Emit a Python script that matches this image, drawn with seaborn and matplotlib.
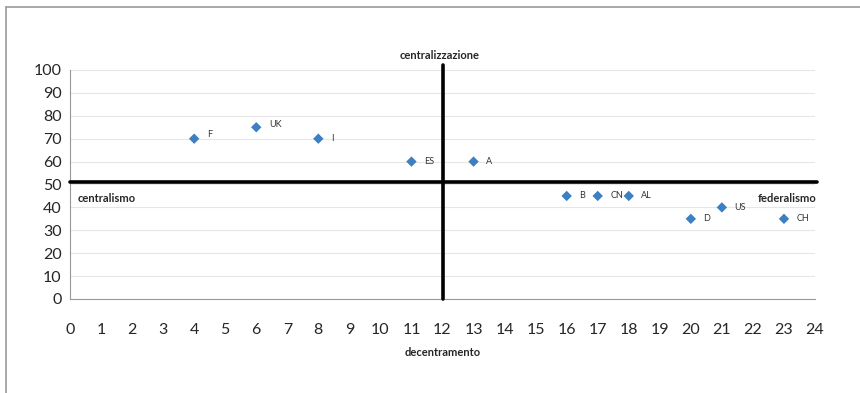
import matplotlib
matplotlib.use('Agg')
import matplotlib.pyplot as plt
from matplotlib.lines import Line2D
import pandas as pd
import seaborn as sns

# country positions: x = decentramento, y = centralizzazione
countries = ['F', 'UK', 'I', 'ES', 'A', 'B', 'CN', 'AL', 'D', 'US', 'CH']
x_vals = [4, 6, 8, 11, 13, 16, 17, 18, 20, 21, 23]
y_vals = [70, 75, 70, 60, 60, 45, 45, 45, 35, 40, 35]

# quadrant axes
x_mid = 12
y_mid = 51

df = pd.DataFrame({'paese': countries, 'x': x_vals, 'y': y_vals})

sns.set_style('white')
plt.rcParams['font.family'] = ['Lato', 'DejaVu Sans']

fig = plt.figure(figsize=(8.6, 3.93), dpi=100)
ax = fig.add_axes([70 / 860, 1 - 299 / 393, 745 / 860, 229 / 393])

sns.scatterplot(data=df, x='x', y='y', marker='D', s=28, color='#3C7FC2',
                edgecolor='none', ax=ax, zorder=4)

# point labels
offsets = {'F': (9, 3), 'UK': (9, 2)}
for _, row in df.iterrows():
    dx, dy = offsets.get(row['paese'], (9, 0))
    ax.annotate(row['paese'], (row['x'], row['y']), xytext=(dx, dy),
                textcoords='offset points', fontsize=6.5, color='#333333',
                va='center', ha='left')

ax.set_xlim(0, 24)
ax.set_ylim(0, 100)
ax.set_xticks(range(0, 25))
ax.set_yticks(range(0, 101, 10))
ax.tick_params(axis='both', labelsize=11.5, length=0, pad=6)
ax.tick_params(axis='x', pad=13, direction='out', length=4, color='#999999')
ax.set_xlabel('')
ax.set_ylabel('')
ax.grid(axis='y', color='#e6e6e6', linewidth=0.8)
ax.set_axisbelow(True)
for side in ['top', 'right']:
    ax.spines[side].set_visible(False)
for side in ['left', 'bottom']:
    ax.spines[side].set_color('#999999')
    ax.spines[side].set_linewidth(0.8)

# quadrant lines
ax.plot([0, 24.05], [y_mid, y_mid], color='black', linewidth=2.6, clip_on=False, zorder=3)
ax.plot([x_mid, x_mid], [0, 102], color='black', linewidth=2.6, clip_on=False, zorder=3)

ax.text(x_mid - 0.1, 104, 'centralizzazione', ha='center', va='bottom',
        fontsize=8, fontweight='bold')
ax.text(x_mid, -21, 'decentramento', ha='center', va='top',
        fontsize=8, fontweight='bold')
ax.text(0.25, 44, 'centralismo', ha='left', va='center',
        fontsize=8, fontweight='bold')
ax.text(24.05, 44, 'federalismo', ha='right', va='center',
        fontsize=8, fontweight='bold')

# outer frame
fig.add_artist(Line2D([6 / 860, 6 / 860], [0, 1 - 7 / 393], color='#9a9a9a', linewidth=1.2))
fig.add_artist(Line2D([6 / 860, 1], [1 - 7 / 393, 1 - 7 / 393], color='#9a9a9a', linewidth=1.2))

fig.savefig('out.png', dpi=100)
